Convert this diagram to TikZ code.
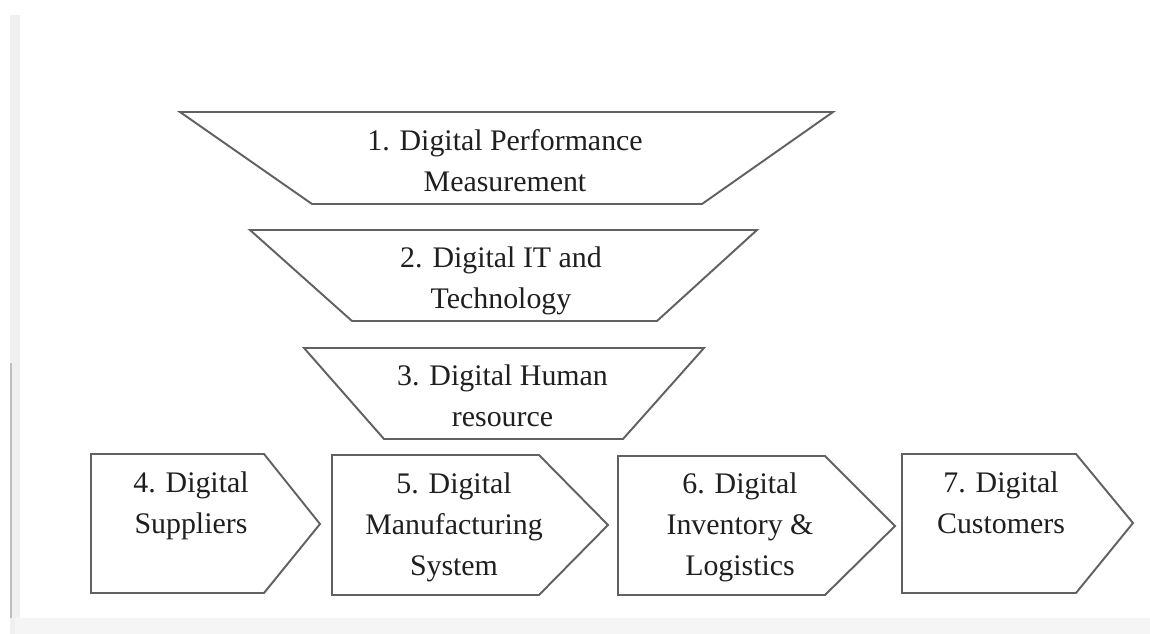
\documentclass[tikz,border=0pt]{standalone}
\usepackage{fontspec}
\setmainfont{Liberation Serif}
\usepackage{tikz}
\def\boxfont{\fontsize{17}{23.3}\selectfont}

\tikzset{
  outline/.style={draw=black!62, line width=1.1pt, fill=white},
  lbl/.style={anchor=north, align=center, inner sep=0pt, text=black!88, font=\boxfont}
}

\begin{document}
\begin{tikzpicture}[x=0.02cm, y=-0.02cm]
      \useasboundingbox (0, 0) rectangle (1150, 634);
      \fill [fill=white] (0, 0) rectangle (1150, 634);
      \fill [fill=black!6] (10, 15) rectangle (20, 634);
      \fill [fill=black!4] (15, 618) rectangle (1150, 634);
      \draw [black!25, line width=1pt] (11, 363) -- (11, 618);

      \draw [outline] (180, 112) -- (833, 112) -- (702, 204) -- (312, 204) -- cycle;
      \draw [outline] (250, 230) -- (757, 230) -- (657, 321) -- (352, 321) -- cycle;
      \draw [outline] (304, 348) -- (704, 348) -- (623, 439) -- (384, 439) -- cycle;

      \draw [outline] (91, 454) -- (264, 454) -- (320, 524) -- (264, 593) -- (91, 593) -- cycle;
      \draw [outline] (332, 455) -- (539, 455) -- (608, 525) -- (539, 595) -- (332, 595) -- cycle;
      \draw [outline] (618, 456) -- (825, 456) -- (895, 526) -- (825, 595) -- (618, 595) -- cycle;
      \draw [outline] (902, 454) -- (1076, 454) -- (1133, 523) -- (1076, 593) -- (902, 593) -- cycle;

      \node[lbl] (perf) at (505, 129.5) {1. Digital Performance\\Measurement};
      \node[lbl] (tech) at (501, 246.5) {2. Digital IT and\\Technology};
      \node[lbl] (human) at (502.5, 364.5) {3. Digital Human\\resource};
      \node[lbl] (suppl) at (191, 471.5) {4. Digital\\Suppliers};
      \node[lbl] (manuf) at (454, 472.5) {5. Digital\\Manufacturing\\System};
      \node[lbl] (logist) at (740, 472.5) {6. Digital\\Inventory \&\\Logistics};
      \node[lbl] (cust) at (1001, 471.5) {7. Digital\\Customers};
    \end{tikzpicture}
\end{document}
